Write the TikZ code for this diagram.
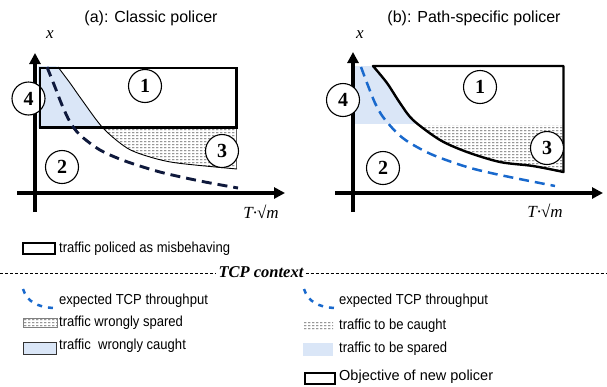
\documentclass[tikz,border=0pt]{standalone}
\usepackage{fontspec}
\usepackage{graphicx}
\setmainfont{Liberation Sans}
\newfontfamily\tms{Liberation Serif}
\usetikzlibrary{arrows.meta,patterns.meta}

% short horizontal dashes, used for the "caught" regions
\pgfdeclarepattern{
  name=hdash,
  type=uncolored,
  bottom left={\pgfpoint{0pt}{0pt}},
  top right={\pgfpoint{4pt}{3pt}},
  tile size={\pgfpoint{4pt}{3pt}},
  code={
    \pgfpathrectangle{\pgfpoint{0pt}{1pt}}{\pgfpoint{2.8pt}{1.1pt}}
    \pgfusepath{fill}
  }
}

\definecolor{tcpblue}{RGB}{25,105,205}
\definecolor{tcpdark}{RGB}{15,25,60}
\definecolor{spareblue}{RGB}{218,230,247}
\definecolor{hatchgray}{RGB}{95,95,95}

\newcommand{\legtext}[1]{\scalebox{0.9}[1]{#1}}

\begin{document}
\begin{tikzpicture}[x=1pt,y=-1pt,
  axisline/.style={line width=3.5pt,-{Triangle[length=11pt,width=11pt]}},
  numcirc/.style={circle,draw,line width=1.1pt,fill=white,minimum size=33pt,
    inner sep=0pt,font=\tms\bfseries\fontsize{20}{20}\selectfont},
  paneltitle/.style={font=\fontsize{16}{19}\selectfont},
  axlabel/.style={font=\tms\itshape\fontsize{17}{19}\selectfont},
  legend/.style={anchor=west,inner sep=0pt,font=\fontsize{14.5}{16}\selectfont},
  policed/.style={draw,line width=2.6pt},
  spared/.style={fill=spareblue},
  caught/.style={pattern={hdash},pattern color=hatchgray},
  tcpcurve/.style={tcpblue,line width=2.5pt,dash pattern=on 10pt off 6pt},
  sepline/.style={line width=0.7pt,dash pattern=on 3pt off 2pt},
]
\useasboundingbox (0,0) rectangle (607,386);

%% ---------------- (a): classic policer ----------------
\node[paneltitle] (ta) at (151,18) {(a): Classic policer};
\node[axlabel] (xa) at (50,35) {x};

% wrongly caught part, left of the policer boundary
\begin{scope}
  \clip (38,66) rectangle (237,127.5);
  \fill[spared] (38,60) -- plot[smooth] coordinates {(58,67) (70,83) (82,100) (103,128) (127,148) (150,157) (177,163) (237,169)} -- (38,175) -- cycle;
\end{scope}
% wrongly spared part, below the rectangle
\begin{scope}
  \clip (38,127.5) rectangle (236.5,180);
  \fill[caught] plot[smooth] coordinates {(58,67) (70,83) (82,100) (103,128) (127,148) (150,157) (177,163) (237,169)} -- (237,60) -- cycle;
\end{scope}
\draw[hatchgray,line width=0.8pt] (236.5,127.5) -- (236.5,169);
\draw[line width=0.9pt] plot[smooth] coordinates {(58,67) (70,83) (82,100) (103,128) (127,148) (150,157) (177,163) (237,169)};

% axes
\coordinate (aO1) at (17,193);
\coordinate (aX) at (285,193);
\coordinate (aO2) at (35,212);
\coordinate (aY) at (35,53);
\draw[axisline] (aO1) -- (aX);
\draw[axisline] (aO2) -- (aY);
\node[axlabel] (ma) at (261,212) {T·√m};

\node[numcirc] (a4) at (28.5,98.5) {4};
\draw[policed] (40,68) rectangle (236.5,127.5);
\draw[tcpdark,line width=2.9pt,dash pattern=on 10pt off 6pt] plot[smooth] coordinates {(47,67) (55,87) (62,105) (70,122) (80,135) (100,150) (125,161) (160,172) (200,181) (238,188)};
\node[numcirc] (a1) at (145,86) {1};
\node[numcirc] (a2) at (62,167) {2};
\node[numcirc] (a3) at (222,151) {3};

%% ---------------- (b): path-specific policer ----------------
\node[paneltitle] (tb) at (474,18) {(b): Path-specific policer};
\node[axlabel] (xb) at (360,35) {x};

\begin{scope}
  \clip (355,66) rectangle (563.5,123);
  \fill[spared] (355,60) -- plot[smooth] coordinates {(373,66) (387,83) (400,103) (413,120) (440,140) (467,152) (500,162) (533,166) (563.5,172)} -- (355,180) -- cycle;
\end{scope}
\begin{scope}
  \clip (355,125) rectangle (563.5,180);
  \fill[caught] plot[smooth] coordinates {(373,66) (387,83) (400,103) (413,120) (440,140) (467,152) (500,162) (533,166) (563.5,172)} -- (563.5,60) -- cycle;
\end{scope}

\coordinate (bO1) at (335,193);
\coordinate (bX) at (603,193);
\coordinate (bO2) at (353,212);
\coordinate (bY) at (353,52);
\draw[axisline] (bO1) -- (bX);
\draw[axisline] (bO2) -- (bY);
\node[axlabel] (mb) at (545,211) {T·√m};

% objective of the new policer
\draw[line width=2.4pt,line join=round] plot[smooth] coordinates {(373,66) (387,83) (400,103) (413,120) (440,140) (467,152) (500,162) (533,166) (563.5,172)} -- (563.5,66) -- cycle;
\draw[tcpcurve] plot[smooth] coordinates {(361,67) (367,83) (375,103) (383,117) (397,133) (410,143) (433,155) (467,167) (500,175) (555,186)};

\node[numcirc] (b4) at (343,100) {4};
\node[numcirc] (b1) at (480,87) {1};
\node[numcirc] (b2) at (383,168) {2};
\node[numcirc] (b3) at (547,148) {3};

%% ---------------- legend ----------------
\draw[policed] (23,243) rectangle (55,254);
\node[legend] (lpol) at (59,249) {\legtext{traffic policed as misbehaving}};

\node[font=\tms\bfseries\itshape\fontsize{16.5}{18}\selectfont,fill=white,inner xsep=2pt,inner ysep=0pt] (tcp) at (261,272.5) {TCP context};
\coordinate (sepL) at (0,273);
\coordinate (sepR) at (607,273);
\draw[sepline] (sepL) -- (tcp.west |- sepL);
\draw[sepline] (tcp.east |- sepR) -- (sepR);

% left column
\draw[tcpblue,line width=2.5pt,dash pattern=on 5pt off 6pt] (23,289) .. controls (27,302) and (38,307) .. (53,308);
\node[legend] (lexa) at (59,301) {\legtext{expected TCP throughput}};
\filldraw[caught,draw=gray,line width=0.6pt] (23,318) rectangle (57,327);
\node[legend] (lspa) at (59,323) {\legtext{traffic wrongly spared}};
\filldraw[spared,draw=black!80,line width=0.8pt] (23,342) rectangle (56,354);
\node[legend] (lcaa) at (59,346) {\legtext{traffic~ wrongly caught}};

% right column
\draw[tcpblue,line width=2.5pt,dash pattern=on 5pt off 6pt] (304,289) .. controls (308,302) and (319,307) .. (334,308);
\node[legend] (lexb) at (339,301) {\legtext{expected TCP throughput}};
\fill[caught] (303,322) rectangle (333,330);
\node[legend] (lcab) at (339,326) {\legtext{traffic to be caught}};
\fill[spared] (303,343) rectangle (333,356);
\node[legend] (lspb) at (339,349) {\legtext{traffic to be spared}};
\draw[policed] (305,373) rectangle (335,384);
\node[legend] (lobj) at (339,377) {Objective of new policer};
\end{tikzpicture}
\end{document}
